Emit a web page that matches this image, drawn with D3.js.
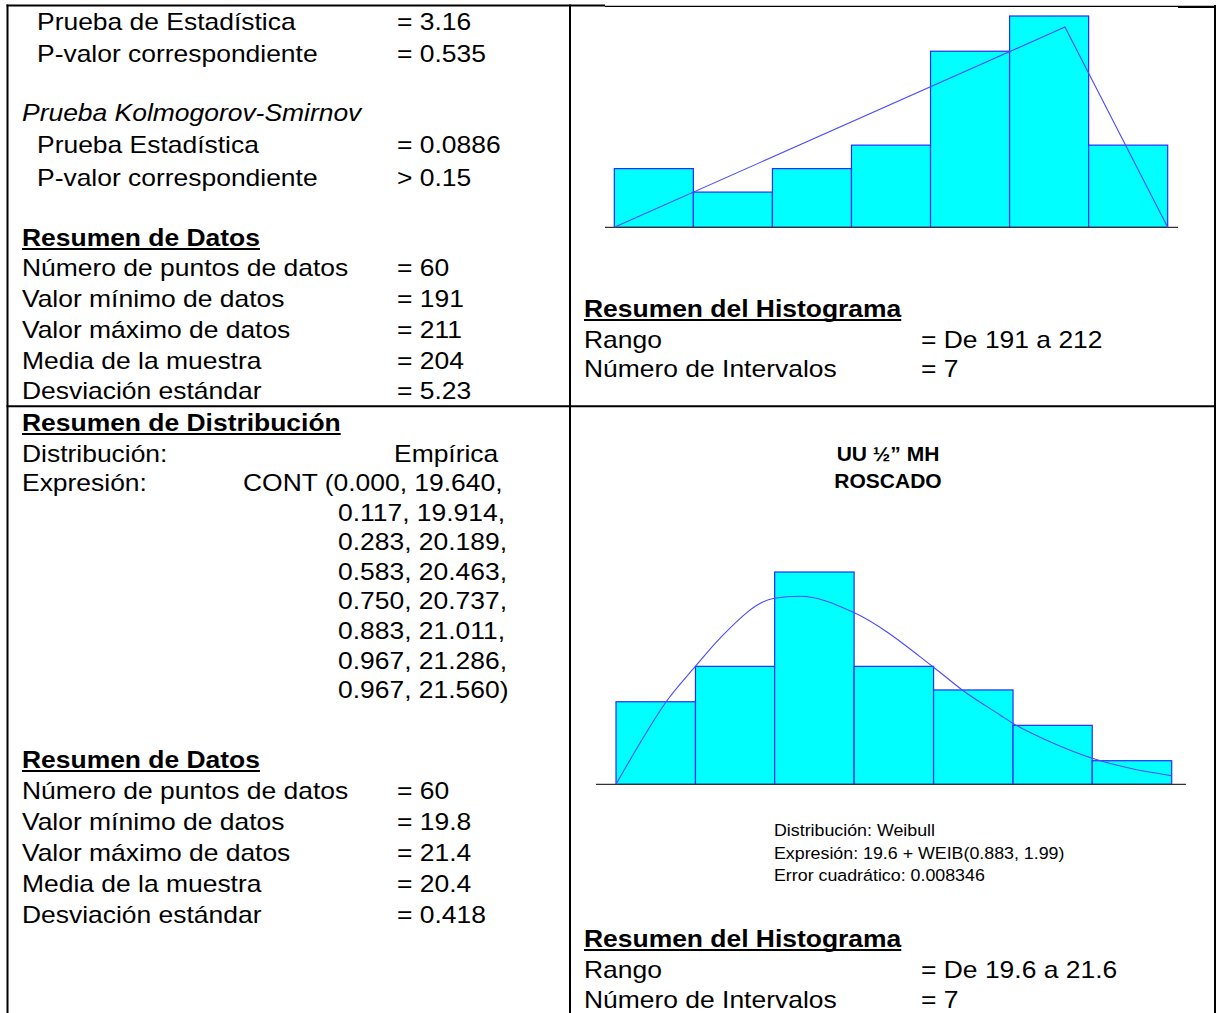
<!DOCTYPE html>
<html><head><meta charset="utf-8">
<script src="https://cdn.jsdelivr.net/npm/d3@7"></script>
<style>body{margin:0;background:#fff}svg{display:block}</style>
</head><body>
<script>
// ---------- DATA ----------
const topBinEdges = [191, 194, 197, 200, 203, 206, 209, 212];
const topCounts = [5, 3, 5, 7, 15, 18, 7];
const topCurveX = [191, 208.1, 212];
const topCurveY = [0, 17.06, 0];

const botBinEdges = [19.600, 19.886, 20.171, 20.457, 20.743, 21.029, 21.314, 21.600];
const botCounts = [7, 10, 18, 10, 8, 5, 2];
const botCurveX = [19.60, 19.686, 19.78, 19.884, 19.974, 20.17, 20.262, 20.454, 20.742, 20.846, 20.982, 21.028, 21.162, 21.314, 21.45, 21.60];
const botCurveY = [0, 3.48, 6.98, 9.95, 12.38, 15.78, 15.95, 14.59, 9.95, 8.0, 5.88, 5.17, 3.61, 2.21, 1.36, 0.73];

const testLabels1 = ["Prueba de Estadística", "P-valor correspondiente"];
const testValues1 = ["= 3.16", "= 0.535"];
const ksTitle = "Prueba Kolmogorov-Smirnov";
const ksLabels = ["Prueba Estadística", "P-valor correspondiente"];
const ksValues = ["= 0.0886", "> 0.15"];
const dataLabels = ["Número de puntos de datos", "Valor mínimo de datos", "Valor máximo de datos", "Media de la muestra", "Desviación estándar"];
const dataValuesTop = ["= 60", "= 191", "= 211", "= 204", "= 5.23"];
const dataValuesBot = ["= 60", "= 19.8", "= 21.4", "= 20.4", "= 0.418"];
const contLines = ["CONT (0.000, 19.640,", "0.117, 19.914,", "0.283, 20.189,", "0.583, 20.463,", "0.750, 20.737,", "0.883, 21.011,", "0.967, 21.286,", "0.967, 21.560)"];
const histLabels = ["Rango", "Número de Intervalos"];
const histValuesTop = ["= De 191 a 212", "= 7"];
const histValuesBot = ["= De 19.6 a 21.6", "= 7"];
const chartTitle = ["UU ½” MH", "ROSCADO"];
const fitLines = ["Distribución: Weibull", "Expresión: 19.6 + WEIB(0.883, 1.99)", "Error cuadrático: 0.008346"];

// ---------- SETUP ----------
const W = 1216, H = 1013;
const svg = d3.select("body").append("svg").attr("width", W).attr("height", H);
const FONT = "'Liberation Sans', Arial, Helvetica, sans-serif";

function txt(x, y, s, o = {}) {
  const size = o.size || 23;
  const sx = o.sx || 1.15;
  const t = svg.append("text")
    .attr("transform", `translate(${x},${y}) scale(${sx},1)`)
    .attr("font-family", FONT)
    .attr("font-size", size)
    .attr("font-weight", o.bold ? "bold" : "normal")
    .attr("font-style", o.italic ? "italic" : "normal")
    .attr("text-anchor", o.anchor || "start")
    .attr("fill", "#000")
    .text(s);
  if (o.underline) {
    const w = t.node().getComputedTextLength() * sx;
    svg.append("line").attr("x1", x).attr("x2", x + w)
      .attr("y1", y + 3).attr("y2", y + 3)
      .attr("stroke", "#000").attr("stroke-width", 2);
  }
  return t;
}

// ---------- TABLE BORDERS ----------
function ln(x1, y1, x2, y2, w, c) {
  return svg.append("line").attr("x1", x1).attr("y1", y1).attr("x2", x2).attr("y2", y2)
    .attr("stroke", c || "#000").attr("stroke-width", w);
}
ln(7.5, 4.5, 7.5, H, 2);
ln(570, 4.5, 570, H, 2);
ln(1215, 5, 1215, H, 2);
ln(6.5, 406.3, 1216, 406.3, 2);
ln(6.5, 5.5, 605, 5.5, 2);
ln(605, 6.3, 1178, 6.3, 1.2);
ln(1178, 6.8, 1216, 6.8, 2.2);

// ---------- LEFT TOP TEXT ----------
const valX = 397;
[29.5, 62].forEach((y, i) => { txt(37, y, testLabels1[i]); txt(valX, y, testValues1[i]); });
txt(22, 121, ksTitle, { italic: true });
[153, 186].forEach((y, i) => { txt(37, y, ksLabels[i]); txt(valX, y, ksValues[i]); });
txt(22, 246, "Resumen de Datos", { bold: true, underline: true });
const dataY1 = [276, 307, 337.5, 368.5, 399];
dataY1.forEach((y, i) => { txt(22, y, dataLabels[i]); txt(valX, y, dataValuesTop[i]); });

// ---------- LEFT BOTTOM TEXT ----------
txt(22, 431, "Resumen de Distribución", { bold: true, underline: true });
txt(22, 462, "Distribución:");
txt(394, 462, "Empírica");
txt(22, 491, "Expresión:");
contLines.forEach((s, i) => {
  txt(i === 0 ? 243 : 338, 491 + i * 29.6, s);
});
txt(22, 768, "Resumen de Datos", { bold: true, underline: true });
const dataY2 = [799, 830, 861, 892, 923];
dataY2.forEach((y, i) => { txt(22, y, dataLabels[i]); txt(valX, y, dataValuesBot[i]); });

// ---------- RIGHT TOP HISTOGRAM ----------
const xTop = d3.scaleLinear().domain([191, 212]).range([614.3, 1167.7]);
const yTop = d3.scaleLinear().domain([0, 18]).range([227.3, 16]);
const topBins = topCounts.map((c, i) => ({ x0: topBinEdges[i], x1: topBinEdges[i + 1], c }));
svg.append("g").selectAll("rect").data(topBins).join("rect")
  .attr("x", d => xTop(d.x0)).attr("width", d => xTop(d.x1) - xTop(d.x0))
  .attr("y", d => yTop(d.c)).attr("height", d => yTop(0) - yTop(d.c))
  .attr("fill", "#00ffff").attr("stroke", "#2a2aff").attr("stroke-width", 1.2);
ln(605, 227.3, 1178, 227.3, 1.2, "#333");
svg.append("path")
  .datum(topCurveX.map((x, i) => [x, topCurveY[i]]))
  .attr("d", d3.line().x(d => xTop(d[0])).y(d => yTop(d[1])))
  .attr("fill", "none").attr("stroke", "#4a4aff").attr("stroke-width", 1.1);

txt(584, 317, "Resumen del Histograma", { bold: true, underline: true });
[347.5, 377].forEach((y, i) => { txt(584, y, histLabels[i]); txt(921, y, histValuesTop[i]); });

// ---------- RIGHT BOTTOM HISTOGRAM ----------
txt(888, 461, chartTitle[0], { bold: true, size: 21, sx: 1.0, anchor: "middle" });
txt(888, 488, chartTitle[1], { bold: true, size: 21, sx: 1.0, anchor: "middle" });

const xBot = d3.scaleLinear().domain([19.6, 21.6]).range([616, 1171.7]);
const yBot = d3.scaleLinear().domain([0, 18]).range([784.3, 572]);
const botBins = botCounts.map((c, i) => ({ x0: botBinEdges[i], x1: botBinEdges[i + 1], c }));
svg.append("g").selectAll("rect").data(botBins).join("rect")
  .attr("x", d => xBot(d.x0)).attr("width", d => xBot(d.x1) - xBot(d.x0))
  .attr("y", d => yBot(d.c)).attr("height", d => yBot(0) - yBot(d.c))
  .attr("fill", "#00ffff").attr("stroke", "#2a2aff").attr("stroke-width", 1.2);
ln(596, 784.3, 1186, 784.3, 1.2, "#333");
svg.append("path")
  .datum(botCurveX.map((x, i) => [x, botCurveY[i]]))
  .attr("d", d3.line().x(d => xBot(d[0])).y(d => yBot(d[1])).curve(d3.curveMonotoneX))
  .attr("fill", "none").attr("stroke", "#4a4aff").attr("stroke-width", 1.1);

fitLines.forEach((s, i) => txt(774, 836 + i * 22.5, s, { size: 16.5, sx: 1.08 }));

txt(584, 947, "Resumen del Histograma", { bold: true, underline: true });
[977.7, 1008].forEach((y, i) => { txt(584, y, histLabels[i]); txt(921, y, histValuesBot[i]); });
</script>
</body></html>
